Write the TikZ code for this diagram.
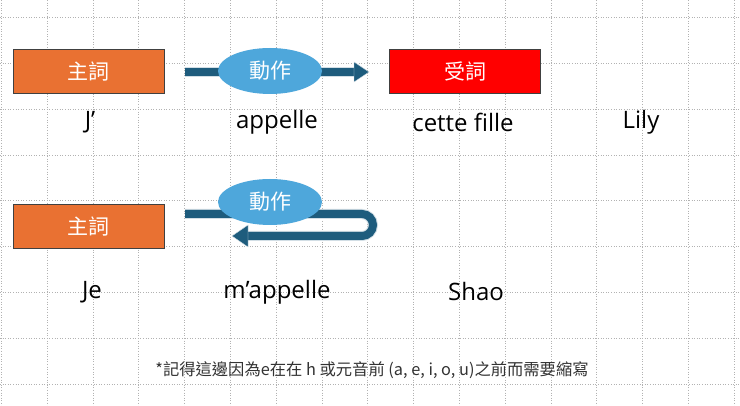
\documentclass[tikz,border=0pt]{standalone}
\usepackage{fontspec}
\setmainfont{Open Sans}
\newfontfamily\cjk{Noto Sans CJK TC}
\usetikzlibrary{shapes.geometric}
\definecolor{orng}{HTML}{E97132}
\definecolor{arrblue}{HTML}{1E5C7D}
\definecolor{ellblue}{HTML}{4EA7DB}
\tikzset{
  box/.style={draw=black!75,line width=0.8pt,minimum width=151pt,minimum height=44pt,inner sep=0pt,text=white,font=\cjk\fontsize{21}{23}\selectfont},
  ell/.style={ellipse,fill=ellblue,minimum width=104pt,minimum height=46pt,inner sep=0pt,text=white,font=\cjk\fontsize{21}{23}\selectfont},
  word/.style={font=\fontsize{24}{27}\selectfont,text=black},
  shaftout/.style={line width=10pt,draw=white!80!arrblue},
  shaftin/.style={line width=8pt,draw=arrblue},
}
\begin{document}
\begin{tikzpicture}[x=1pt,y=-1pt]
\useasboundingbox (0,0) rectangle (740,406);
\fill[white] (0,0) rectangle (740,406);
\foreach \i in {0,...,16} \draw[gray!60,dotted,line width=0.6pt] (1.2+\i*45.8,0) -- (1.2+\i*45.8,406);
\foreach \j in {0,...,8} \draw[gray!60,dotted,line width=0.6pt] (0,17.5+\j*45.8) -- (740,17.5+\j*45.8);
% row 1
\node[box,fill=orng] (s1) at (88.5,71) {主詞};
\node[box,fill=red] (o1) at (465,71) {受詞};
\coordinate (a1s) at (185,72);
\coordinate (a1e) at (355,72);
\draw[shaftout] (a1s) -- (a1e);
\draw[shaftin] (a1s) -- (a1e);
\fill[arrblue,draw=white!80!arrblue] (354,62) -- (369,72) -- (354,82) -- cycle;
\node[ell] (v1) at (270,71) {動作};
\node[word] (w1) at (90,122) {J’};
\node[word] (w2) at (277,122) {appelle};
\node[word] (w3) at (463,122) {cette fille};
\node[word] (w4) at (641,122) {Lily};
% row 2
\node[box,fill=orng] (s2) at (88.5,226.5) {主詞};
\coordinate (a2s) at (185,214);
\coordinate (a2e) at (246,236);
\draw[shaftout] (a2s) -- (362,214) arc[start angle=-90,end angle=90,radius=11] -- (a2e);
\draw[shaftin] (a2s) -- (362,214) arc[start angle=-90,end angle=90,radius=11] -- (a2e);
\fill[arrblue,draw=white!80!arrblue] (248,225) -- (232,236) -- (248,247) -- cycle;
\node[ell] (v2) at (270,202) {動作};
\node[word] (w5) at (92,292) {Je};
\node[word] (w6) at (277,292) {m’appelle};
\node[font=\cjk\fontsize{16.3}{19}\selectfont,text=black!80] (note) at (372,370) {*記得這邊因為e在在 h 或元音前 (a, e, i, o, u)之前而需要縮寫};
\node[word] (w7) at (476,292) {Shao};
\end{tikzpicture}
\end{document}
